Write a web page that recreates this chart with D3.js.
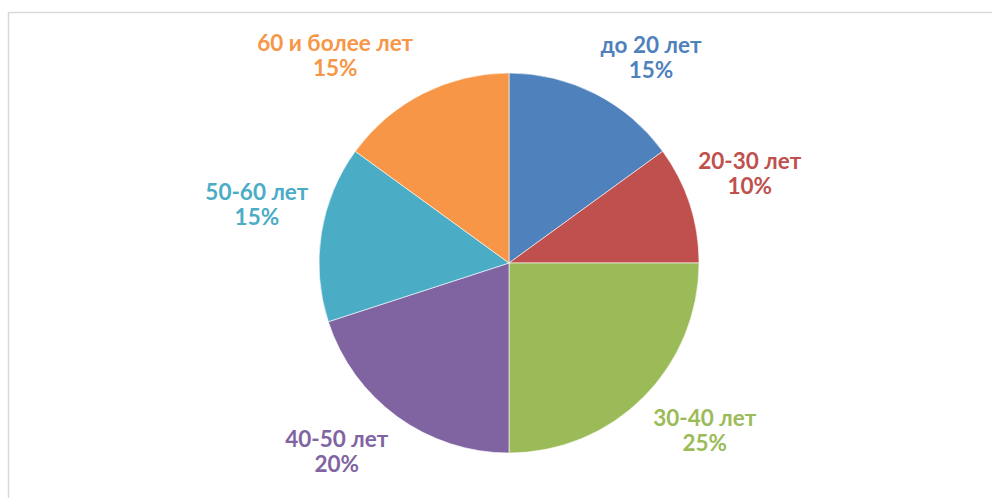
<!DOCTYPE html>
<html>
<head>
<meta charset="utf-8">
<script src="https://cdn.jsdelivr.net/npm/d3@7"></script>
<style>
  html, body { margin: 0; padding: 0; background: #fff; }
  svg { display: block; }
</style>
</head>
<body>
<svg id="chart" width="992" height="498"></svg>
<script>
// Age groups and their shares (%)
const categories = ["до 20 лет", "20-30 лет", "30-40 лет", "40-50 лет", "50-60 лет", "60 и более лет"];
const shares = [15, 10, 25, 20, 15, 15];
const colors = ["#4F81BD", "#C0504D", "#9BBB59", "#8064A2", "#4BACC6", "#F79646"];

// Label placement around the pie: angle (degrees clockwise from 12 o'clock) and distance from centre
const labelAngles = [34.6, 69.5, 130.4, 222.5, 283.2, 320.1];
const labelRadii = [250, 257, 257, 255, 259, 271];

const width = 992, height = 498;
const cx = 509, cy = 263, radius = 190;

const svg = d3.select("#chart");

// Chart frame
svg.append("rect")
  .attr("x", 8.5).attr("y", 12.5)
  .attr("width", 1000).attr("height", 1000)
  .attr("fill", "none")
  .attr("stroke", "#d9d9d9")
  .attr("stroke-width", 1.5);

const data = categories.map((c, i) => ({ name: c, value: shares[i], color: colors[i] }));

const pie = d3.pie().value(d => d.value).sort(null);
const arc = d3.arc().innerRadius(0).outerRadius(radius);

const g = svg.append("g").attr("transform", `translate(${cx},${cy})`);

g.selectAll("path.slice")
  .data(pie(data))
  .join("path")
  .attr("class", "slice")
  .attr("d", arc)
  .attr("fill", d => d.data.color)
  .attr("stroke", "#ffffff")
  .attr("stroke-width", 0.6);

const fmt = v => d3.format(".0%")(v / d3.sum(shares));

const labels = g.selectAll("g.label")
  .data(pie(data))
  .join("g")
  .attr("class", "label")
  .attr("font-family", "Lato, 'Open Sans', sans-serif")
  .attr("font-weight", "bold")
  .attr("font-size", 22.5)
  .attr("text-anchor", "middle")
  .attr("fill", d => d.data.color)
  .attr("transform", (d, i) => {
    const a = labelAngles[i] * Math.PI / 180;
    const x = Math.sin(a) * labelRadii[i];
    const y = -Math.cos(a) * labelRadii[i];
    return `translate(${x},${y})`;
  });

labels.append("text")
  .attr("y", -4)
  .text(d => d.data.name);
labels.append("text")
  .attr("y", 21)
  .text(d => fmt(d.data.value));
</script>
</body>
</html>
